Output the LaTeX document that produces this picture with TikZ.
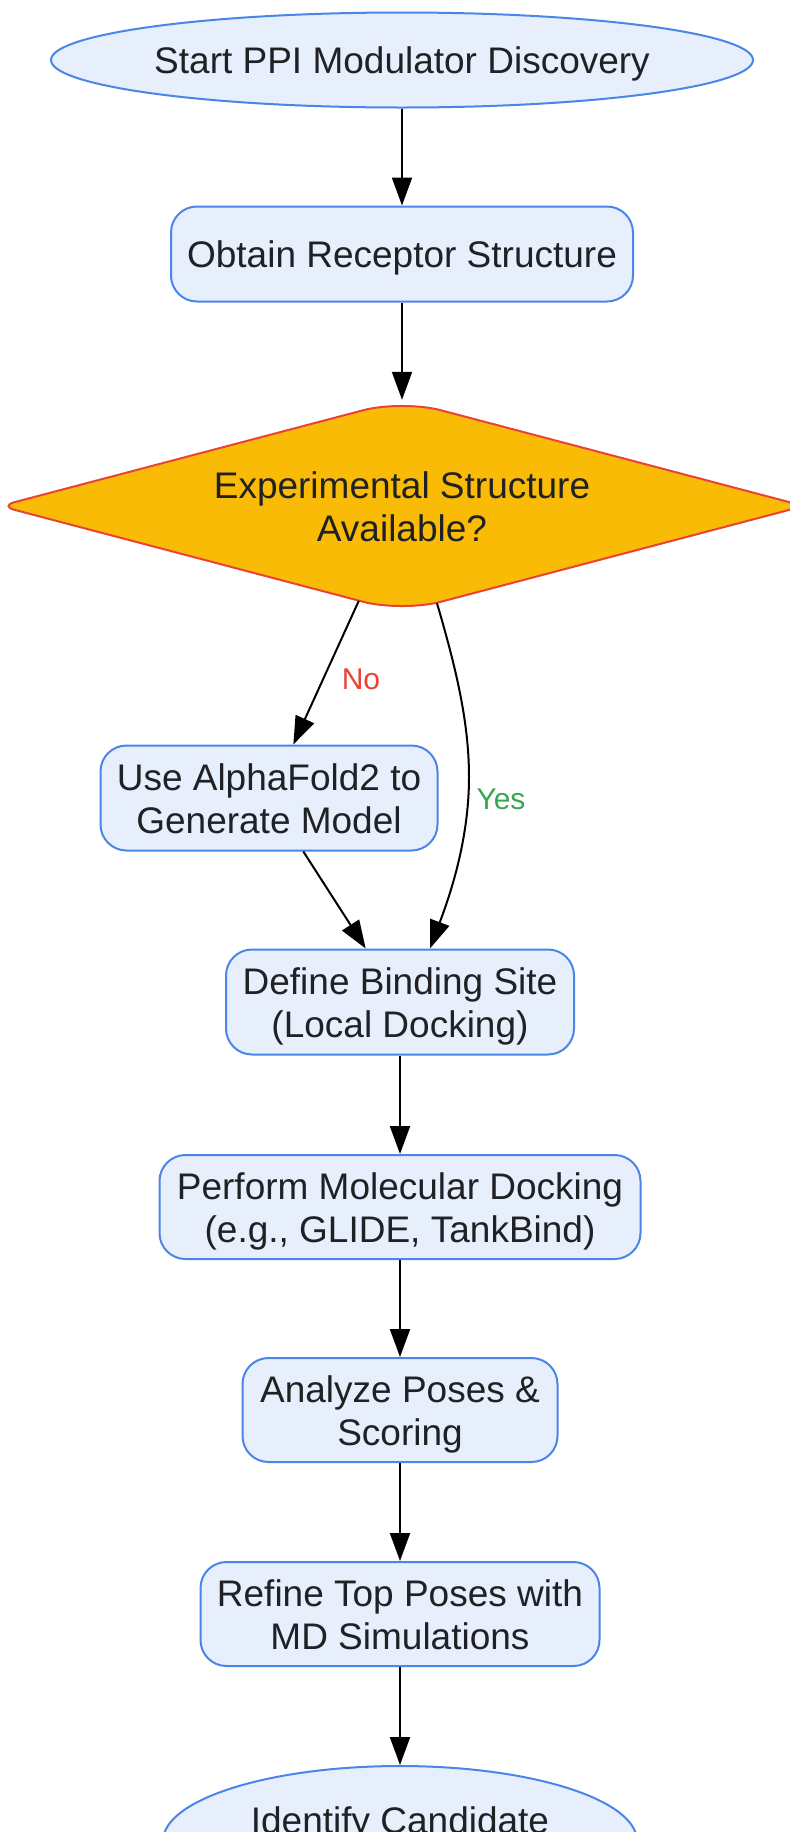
\documentclass[tikz,border=0pt]{standalone}
\usepackage{fontspec}
\setmainfont{Liberation Sans}
\usetikzlibrary{shapes.geometric,arrows.meta,calc}
\definecolor{nodefill}{HTML}{E8EFFC}
\definecolor{nodeline}{HTML}{4A86E8}
\definecolor{decfill}{HTML}{F9BB06}
\definecolor{decline}{HTML}{EA4335}
\definecolor{txt}{HTML}{202124}
\definecolor{yesgreen}{HTML}{34A853}
\newcommand\lnstrut{\vphantom{\rule[-8pt]{1pt}{43pt}}}
\begin{document}
\begin{tikzpicture}[x=1pt,y=-1pt,
  base/.style={draw=nodeline, fill=nodefill, line width=2pt, text=txt, align=center, inner sep=0pt, font=\fontsize{37}{43}\selectfont},
  procbox/.style={base, rectangle, rounded corners=26pt},
  termnode/.style={base, ellipse},
  decision/.style={diamond, aspect=3.8, text=txt, align=center, inner sep=0pt, font=\fontsize{37}{43}\selectfont},
  decline/.style={draw=decline, fill=decfill, line width=2pt},
  arr/.style={draw=black, line width=2pt, -{Triangle[length=28pt,width=20pt]}},
  lbl/.style={font=\fontsize{30}{34}\selectfont, inner sep=0pt}
]
\useasboundingbox (0,0) rectangle (790,1832);
\node[termnode, minimum width=702pt, minimum height=95pt] (start) at (402,60) {\lnstrut Start PPI Modulator Discovery};
\node[procbox, minimum width=462pt, minimum height=95pt] (obtain) at (402,254) {\lnstrut Obtain Receptor Structure};
% decision diamond outline
\coordinate (dN) at (402,400);
\coordinate (dE) at (804,506);
\coordinate (dS) at (402,612);
\coordinate (dW) at (0,506);
\draw[decline] ($(dN)!0.5!(dE)$) [rounded corners=15pt] -- (dE) -- ($(dE)!0.5!(dS)$)
  [rounded corners=40pt] -- (dS) -- ($(dS)!0.5!(dW)$)
  [rounded corners=15pt] -- (dW) -- ($(dW)!0.5!(dN)$)
  [rounded corners=40pt] -- (dN) -- cycle;
\node[decision, minimum width=804pt, minimum height=212pt] (dia) at (402,506) {\lnstrut Experimental Structure\\\lnstrut Available?};
\node[procbox, minimum width=337pt, minimum height=105pt] (af) at (269,798) {\lnstrut Use AlphaFold2 to\\\lnstrut Generate Model};
\node[procbox, minimum width=348pt, minimum height=105pt] (def) at (400,1002) {\lnstrut Define Binding Site\\\lnstrut (Local Docking)};
\node[procbox, minimum width=481pt, minimum height=104pt] (dock) at (400,1207) {\lnstrut Perform Molecular Docking\\\lnstrut (e.g., GLIDE, TankBind)};
\node[procbox, minimum width=315pt, minimum height=104pt] (ana) at (400,1410) {\lnstrut Analyze Poses \&\\\lnstrut Scoring};
\node[procbox, minimum width=399pt, minimum height=104pt] (ref) at (400,1614) {\lnstrut Refine Top Poses with\\\lnstrut MD Simulations};
\node[termnode, minimum width=474pt, minimum height=150pt] (ident) at (400,1841) {\lnstrut Identify Candidate\\\lnstrut};

\draw[arr] (start) -- (obtain);
\draw[arr] (obtain) -- (dia);
\draw[arr] (dia) -- (af);
\node[lbl, text=decline] (nolbl) at (361,679) {No};
\draw[arr] (af) -- (def);
\coordinate (ys) at ($(dia.south)+(35,-9)$);
\coordinate (ymid) at (469,777);
\coordinate (ye) at ($(def.north)+(30,0)$);
\draw[arr] (ys) .. controls (455,665) and (469,720) .. (ymid) .. controls (469,840) and (450,895) .. (ye);
\node[lbl, text=yesgreen] (yeslbl) at (501,799) {Yes};
\draw[arr] (def) -- (dock);
\draw[arr] (dock) -- (ana);
\draw[arr] (ana) -- (ref);
\draw[arr] (ref) -- (ident);
\end{tikzpicture}
\end{document}
